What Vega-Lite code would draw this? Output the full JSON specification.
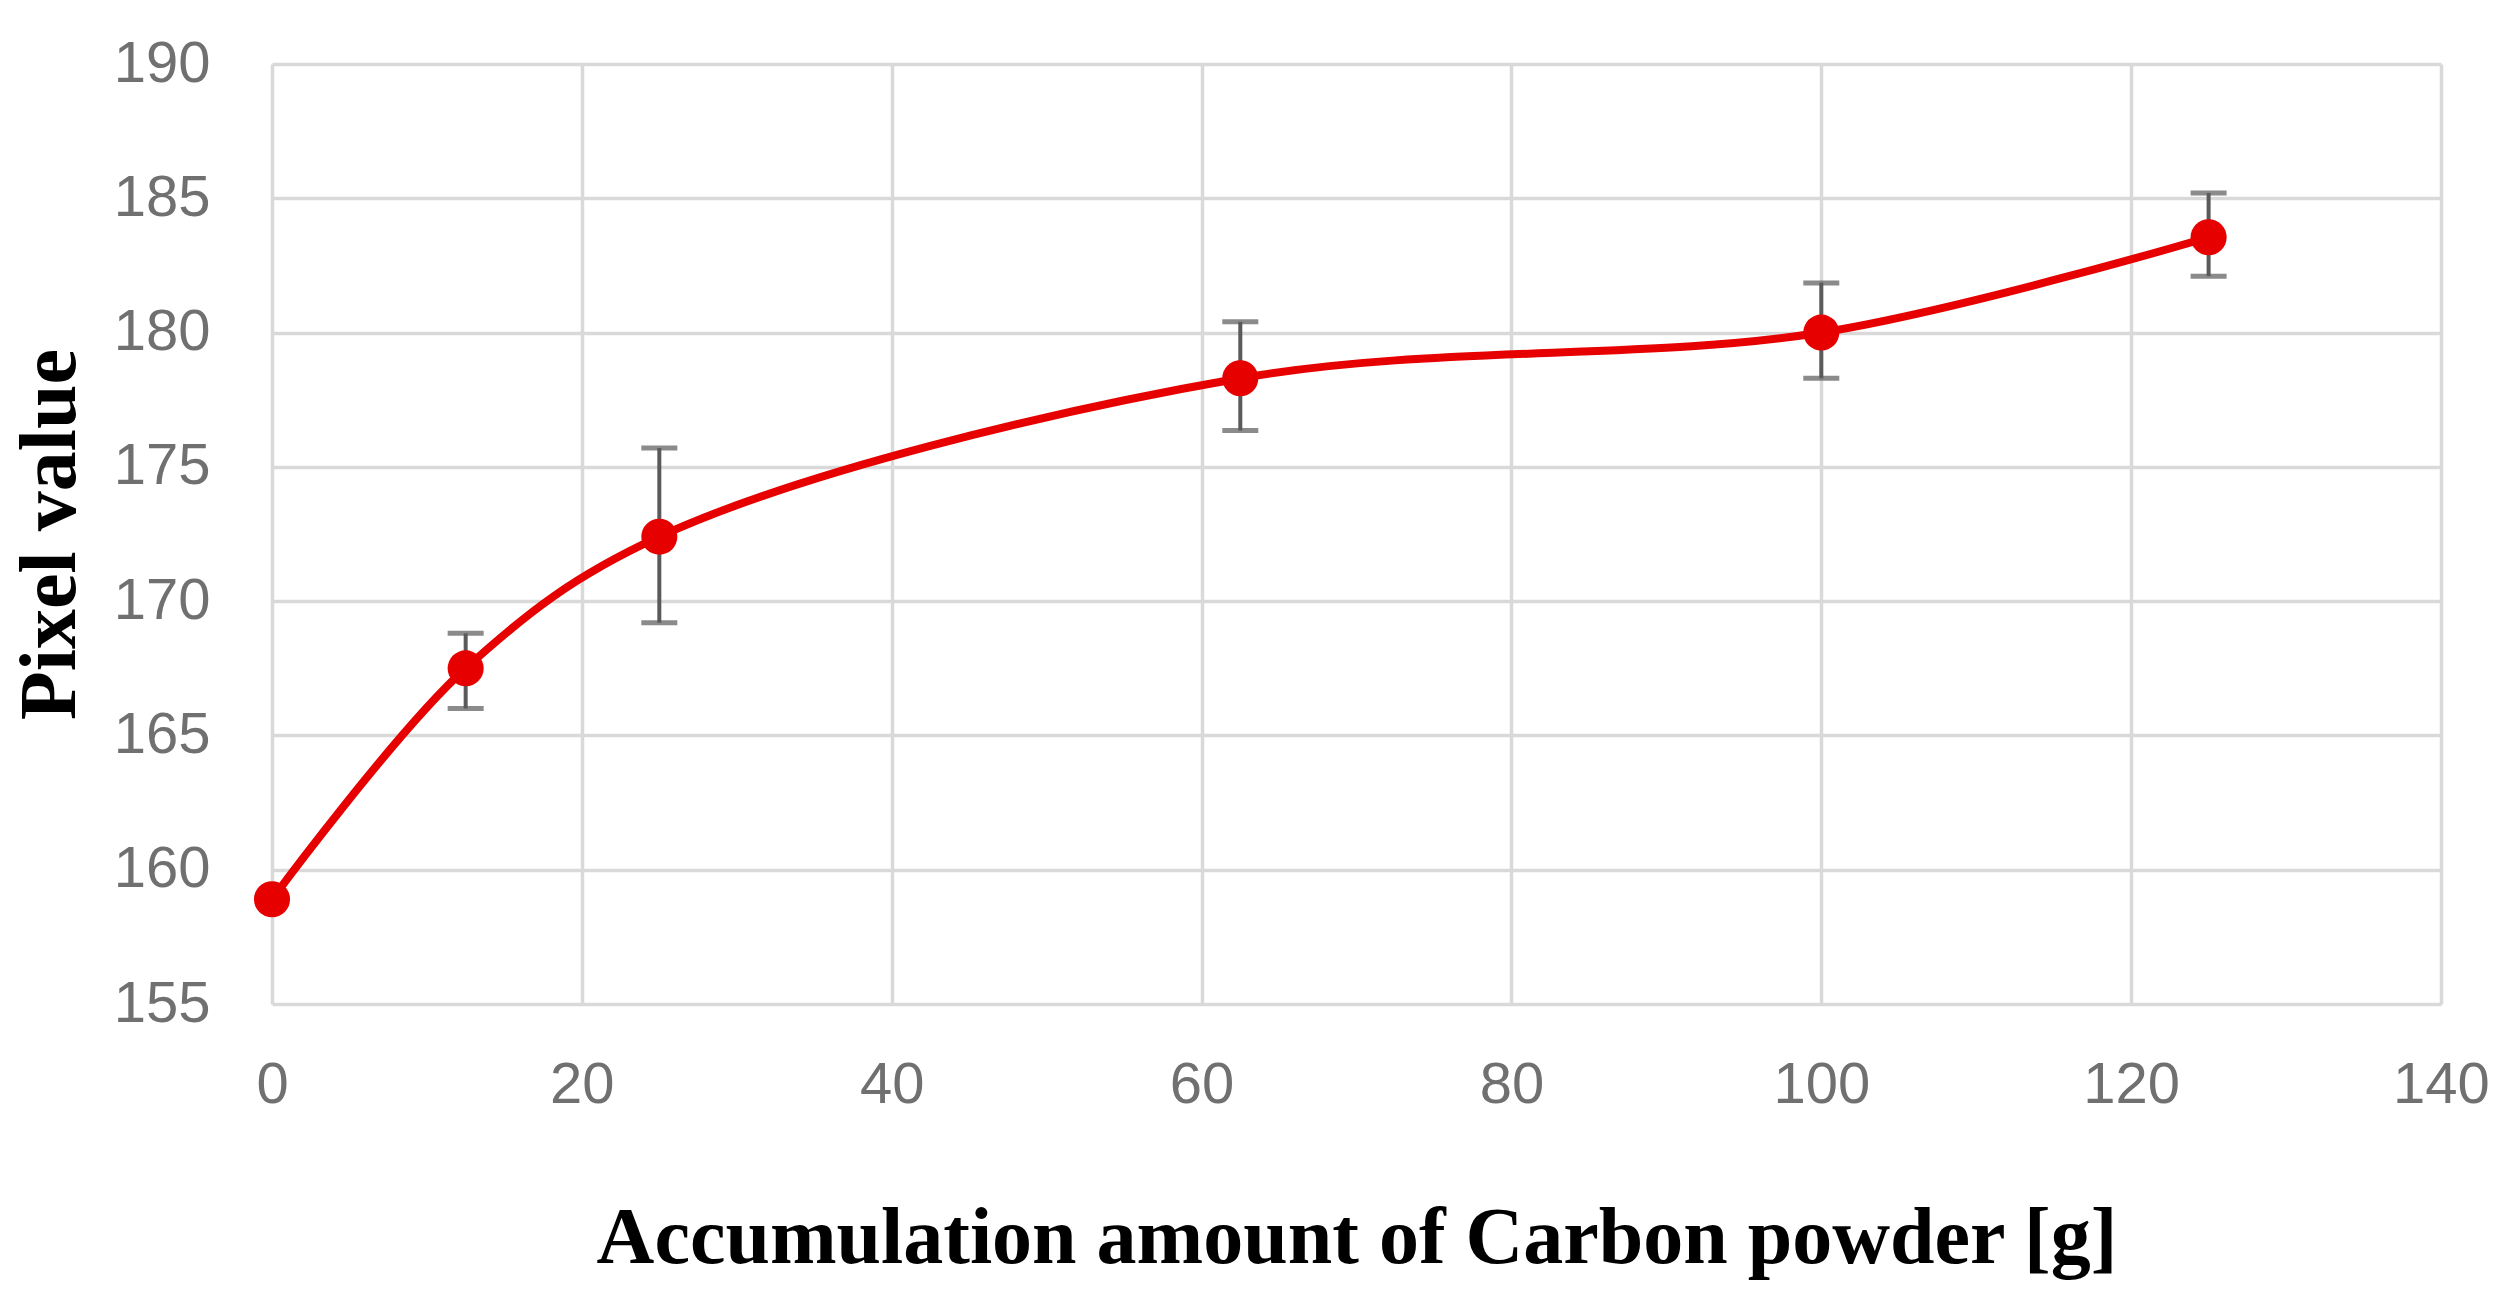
{
  "$schema": "https://vega.github.io/schema/vega-lite/v6.json",
  "autosize": "none",
  "width": 2169,
  "height": 940,
  "padding": {"left": 272, "top": 64, "right": 69, "bottom": 302},
  "background": "white",
  "config": {
    "view": {"stroke": null},
    "axis": {
      "grid": true,
      "gridColor": "#d9d9d9",
      "gridWidth": 3.5,
      "domain": false,
      "ticks": false,
      "labelFont": "Liberation Sans",
      "labelFontSize": 58,
      "labelColor": "#707070",
      "labelFlush": false,
      "titleFont": "Liberation Serif",
      "titleFontWeight": "bold",
      "titleFontSize": 80,
      "titleColor": "#000000"
    }
  },
  "data": {
    "values": [
      {"amount": 0, "pixel": 158.9, "lo": null, "hi": null},
      {"amount": 12.5, "pixel": 167.5, "lo": 166.0, "hi": 168.8},
      {"amount": 25, "pixel": 172.4, "lo": 169.2, "hi": 175.7},
      {"amount": 62.5, "pixel": 178.3, "lo": 176.35, "hi": 180.4},
      {"amount": 100, "pixel": 180.0, "lo": 178.3, "hi": 181.85},
      {"amount": 125, "pixel": 183.55, "lo": 182.1, "hi": 185.2}
    ]
  },
  "encoding": {
    "x": {
      "field": "amount",
      "type": "quantitative",
      "scale": {"domain": [0, 140], "nice": false},
      "axis": {
        "values": [0, 20, 40, 60, 80, 100, 120, 140],
        "labelPadding": 52,
        "title": "Accumulation amount of Carbon powder [g]",
        "titlePadding": 85
      }
    }
  },
  "layer": [
    {
      "transform": [{"filter": "datum.lo != null"}],
      "mark": {"type": "rule", "color": "#5a5a5a", "strokeWidth": 4},
      "encoding": {
        "y": {"field": "lo", "type": "quantitative", "scale": {"domain": [155, 190], "nice": false}},
        "y2": {"field": "hi"}
      }
    },
    {
      "transform": [{"filter": "datum.lo != null"}],
      "mark": {"type": "tick", "orient": "horizontal", "color": "#5a5a5a", "size": 36, "thickness": 5},
      "encoding": {
        "y": {"field": "lo", "type": "quantitative"}
      }
    },
    {
      "transform": [{"filter": "datum.lo != null"}],
      "mark": {"type": "tick", "orient": "horizontal", "color": "#5a5a5a", "size": 36, "thickness": 5},
      "encoding": {
        "y": {"field": "hi", "type": "quantitative"}
      }
    },
    {
      "mark": {"type": "line", "color": "#e60000", "strokeWidth": 8, "interpolate": "catmull-rom"},
      "encoding": {
        "y": {
          "field": "pixel",
          "type": "quantitative",
          "scale": {"domain": [155, 190], "nice": false},
          "axis": {
            "values": [155, 160, 165, 170, 175, 180, 185, 190],
            "labelPadding": 62,
            "title": "Pixel value",
            "titlePadding": 22
          }
        }
      }
    },
    {
      "mark": {"type": "point", "shape": "circle", "filled": true, "color": "#e60000", "opacity": 1, "size": 1300},
      "encoding": {
        "y": {"field": "pixel", "type": "quantitative"}
      }
    }
  ]
}
